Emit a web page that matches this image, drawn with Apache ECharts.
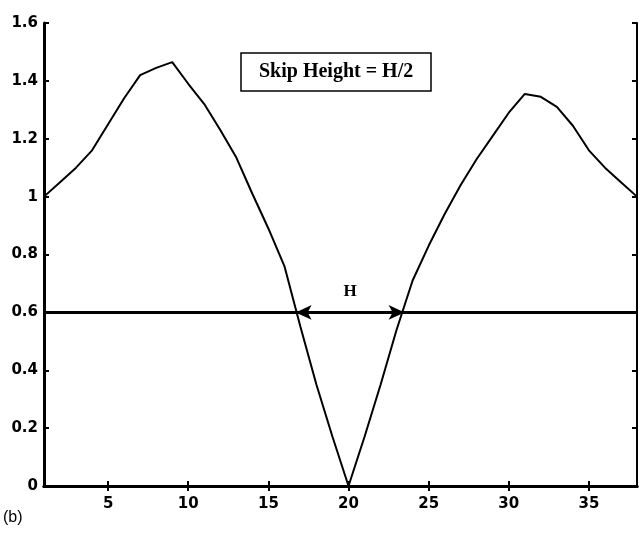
<!DOCTYPE html>
<html>
<head>
<meta charset="utf-8">
<style>
  html, body { margin: 0; padding: 0; background: #fff; }
  #chart { width: 640px; height: 534px; }
</style>
<script src="https://cdn.jsdelivr.net/npm/echarts@6/dist/echarts.min.js"></script>
</head>
<body>
<div id="chart"></div>
<script>
// Sample index along the profile and the measured profile height
const positions = [1, 2, 3, 4, 5, 6, 7, 8, 9, 10, 11, 12, 13, 14, 15, 16, 17, 18, 19,
  20, 21, 22, 23, 24, 25, 26, 27, 28, 29, 30, 31, 32, 33, 34, 35, 36, 37, 38];
const heights = [1.00, 1.05, 1.10, 1.16, 1.25, 1.34, 1.42, 1.445, 1.465, 1.39, 1.32, 1.23, 1.135, 1.01, 0.89, 0.76, 0.55, 0.35, 0.17,
  0.00, 0.17, 0.35, 0.54, 0.71, 0.83, 0.94, 1.04, 1.13, 1.21, 1.29, 1.355, 1.345, 1.31, 1.245, 1.16, 1.10, 1.05, 1.00];

// Tick labels
const xTicks = [5, 10, 15, 20, 25, 30, 35];
const yTicks = [0, 0.2, 0.4, 0.6, 0.8, 1, 1.2, 1.4, 1.6];

// Skip level and the width H measured at that level
const skipLevel = 0.6;
const hStart = 16.7;
const hEnd = 23.5;

const chart = echarts.init(document.getElementById('chart'));

const tickFont = { fontFamily: 'DejaVu Sans', fontWeight: 'bold', fontSize: 15, color: '#000' };
const axisLineStyle = { color: '#000', width: 3 };

chart.setOption({
  animation: false,
  backgroundColor: '#fff',
  title: [
    {
      text: 'Skip Height = H/2',
      left: 241,
      top: 53,
      padding: [9, 18],
      borderColor: '#000',
      borderWidth: 1.5,
      backgroundColor: '#fff',
      textStyle: { fontFamily: 'Liberation Serif', fontWeight: 'bold', fontSize: 20, color: '#000' }
    },
    {
      text: '(b)',
      left: 3,
      top: 510,
      padding: 0,
      textStyle: { fontFamily: 'Liberation Sans', fontWeight: 'normal', fontSize: 16, color: '#000' }
    }
  ],
  grid: { left: 44, right: 3, top: 23, bottom: 48 },
  xAxis: [
    {
      type: 'value', min: 1, max: 38, position: 'bottom',
      axisLine: { lineStyle: axisLineStyle },
      axisTick: { inside: true, length: 5, customValues: xTicks, lineStyle: { color: '#000', width: 2 } },
      axisLabel: Object.assign({ customValues: xTicks, margin: 11 }, tickFont),
      splitLine: { show: false }
    },
    {
      type: 'value', min: 1, max: 38, position: 'top',
      axisLine: { lineStyle: axisLineStyle },
      axisTick: { inside: true, length: 5, customValues: xTicks, lineStyle: { color: '#000', width: 2 } },
      axisLabel: { show: false },
      splitLine: { show: false }
    }
  ],
  yAxis: [
    {
      type: 'value', min: 0, max: 1.6, interval: 0.2, position: 'left',
      axisLine: { show: true, lineStyle: axisLineStyle },
      axisTick: { show: true, inside: true, length: 5, lineStyle: { color: '#000', width: 2 } },
      axisLabel: Object.assign({ margin: 6, formatter: v => String(+v.toFixed(1)) }, tickFont),
      splitLine: { show: false }
    },
    {
      type: 'value', min: 0, max: 1.6, interval: 0.2, position: 'right',
      axisLine: { show: true, lineStyle: { color: '#000', width: 2 } },
      axisTick: { show: true, inside: true, length: 5, lineStyle: { color: '#000', width: 2 } },
      axisLabel: { show: false },
      splitLine: { show: false }
    }
  ],
  series: [
    {
      type: 'line',
      data: positions.map((x, i) => [x, heights[i]]),
      showSymbol: false,
      smooth: false,
      lineStyle: { color: '#000', width: 2 },
      z: 3,
      markLine: {
        silent: true,
        animation: false,
        data: [
          [
            { coord: [1, skipLevel], symbol: 'none' },
            { coord: [38, skipLevel], symbol: 'none' }
          ],
          [
            { coord: [hStart, skipLevel], symbol: 'arrow', symbolSize: [11, 16] },
            {
              coord: [hEnd, skipLevel], symbol: 'arrow', symbolSize: [11, 16],
              label: {
                show: true, position: 'middle', formatter: 'H', distance: 12,
                fontFamily: 'Liberation Serif', fontWeight: 'bold', fontSize: 17, color: '#000'
              }
            }
          ]
        ],
        lineStyle: { color: '#000', width: 3, type: 'solid' },
        label: { show: false }
      }
    }
  ]
});
</script>
</body>
</html>
